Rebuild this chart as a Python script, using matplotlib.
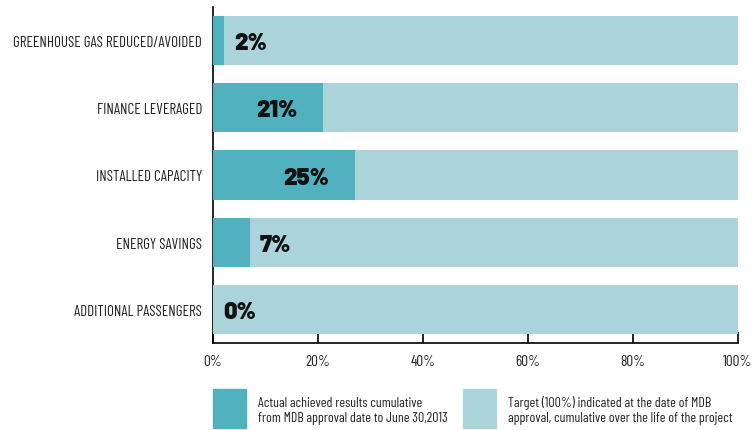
import matplotlib
matplotlib.use("Agg")
import matplotlib.pyplot as plt
from matplotlib.patches import Rectangle

# -------------------------------
# Data
# -------------------------------
categories = ["GREENHOUSE GAS REDUCED/AVOIDED", "FINANCE LEVERAGED",
              "INSTALLED CAPACITY", "ENERGY SAVINGS", "ADDITIONAL PASSENGERS"]
actual = [2, 21, 27, 7, 0]          # bar length as drawn
labels = ["2%", "21%", "25%", "7%", "0%"]
target = [100, 100, 100, 100, 100]
xticks = [0, 20, 40, 60, 80, 100]
legend_texts = ["Actual achieved results cumulative\nfrom MDB approval date to June 30,2013",
                "Target (100%) indicated at the date of MDB\napproval, cumulative over the life of the project"]

c_actual = "#52b1bf"
c_target = "#aad4da"
narrow = ["Barlow Condensed", "DejaVu Sans"]
heavy = ["Barlow", "DejaVu Sans"]

# -------------------------------
# Plot
# -------------------------------
fig = plt.figure(figsize=(7.52, 4.31), dpi=100)
ax = fig.add_axes([213/752, 87/431, 525/752, 336/431])

y = list(range(len(categories)))
ax.barh(y, target, height=0.73, color=c_target, zorder=2)
ax.barh(y, actual, height=0.73, color=c_actual, zorder=3)

for yi, v, lab in zip(y, actual, labels):
    if v >= 15:
        ax.text(v - 5, yi + 0.03, lab, ha="right", va="center", fontsize=17,
                family=heavy, fontweight="black", color="#111111", zorder=4)
    else:
        ax.text(v + 2, yi + 0.03, lab, ha="left", va="center", fontsize=17,
                family=heavy, fontweight="black", color="#111111", zorder=4)

ax.set_xlim(0, 100)
ax.set_ylim(4.5, -0.5)
ax.set_yticks(y)
ax.set_yticklabels(categories, family=narrow, fontsize=10.8, color="#222222")
ax.set_xticks(xticks)
ax.set_xticklabels([f"{t}%" for t in xticks], family=narrow, fontsize=11, color="#222222")
ax.tick_params(axis="y", length=0, pad=8)
ax.tick_params(axis="x", direction="in", length=8, width=1.2, pad=8)

for s in ["top", "right"]:
    ax.spines[s].set_visible(False)
ax.spines["left"].set_linewidth(1.2)
ax.spines["bottom"].set_linewidth(1.2)
ax.spines["left"].set_zorder(1)

# -------------------------------
# Legend
# -------------------------------
W, H = 752, 431
for x0, col, txt in [(213, c_actual, legend_texts[0]), (463, c_target, legend_texts[1])]:
    fig.patches.append(Rectangle((x0/W, 2/H), 33/W, 39/H, transform=fig.transFigure,
                                 color=col))
    fig.text((x0 + 45)/W, 20/H, txt, ha="left", va="center", family=narrow,
             fontsize=10, color="#222222", linespacing=1.2)

fig.savefig("out.png", dpi=100)
